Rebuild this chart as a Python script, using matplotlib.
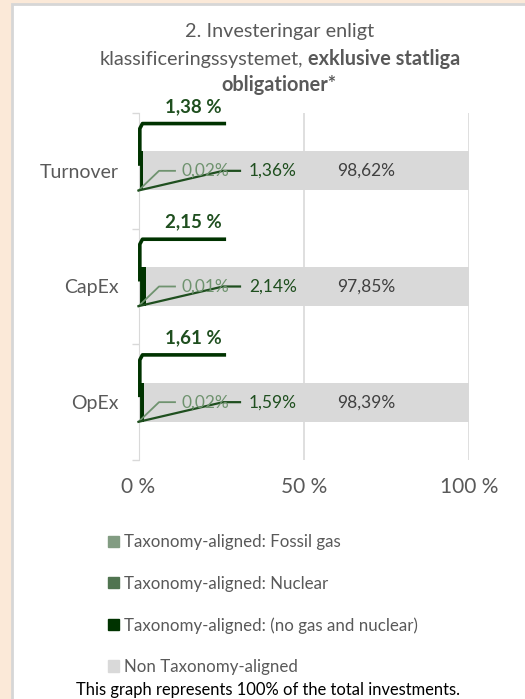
import matplotlib
matplotlib.use("Agg")
import matplotlib.pyplot as plt
from matplotlib.patches import Rectangle, Patch

# data
categories = ["Turnover", "CapEx", "OpEx"]
fossil_gas = [0.00, 0.00, 0.00]
nuclear = [0.02, 0.01, 0.02]
aligned = [1.36, 2.14, 1.59]
non_aligned = [98.62, 97.85, 98.39]
totals = [1.38, 2.15, 1.61]
x_ticks = [0, 50, 100]
legend_labels = ["Taxonomy-aligned: Fossil gas", "Taxonomy-aligned: Nuclear",
                 "Taxonomy-aligned: (no gas and nuclear)", "Non Taxonomy-aligned"]

# couleurs
c_gas = "#829c82"
c_nuc = "#507450"
c_ali = "#003300"
c_non = "#d9d9d9"
c_txt = "#595959"
c_lab = "#1f4f1f"
c_nuc_lab = "#6f936f"

plt.rcParams["font.family"] = ["Lato", "DejaVu Sans"]

W, H = 525, 699
fig = plt.figure(figsize=(W / 100, H / 100), dpi=100)
fig.patch.set_facecolor("#fbe9d8")


def px(x, y):
    return x / W, 1 - y / H


# panneau blanc avec bord gris
fig.patches.append(Rectangle(px(12, 710), 600 / W, 706 / H, transform=fig.transFigure,
                             facecolor="white", edgecolor="#d6d6d6", linewidth=2, zorder=-10))

x0, y0 = px(138.5, 460)
x1, y1 = px(469, 113)
ax = fig.add_axes([x0, y0, x1 - x0, y1 - y0])
ax.set_facecolor("none")

ypos = list(range(len(categories)))
h = 0.34
left = [0] * 3
for vals, col in [(fossil_gas, c_gas), (nuclear, c_nuc), (aligned, c_ali), (non_aligned, c_non)]:
    ax.barh(ypos, vals, left=left, height=h, color=col, zorder=2)
    left = [l + v for l, v in zip(left, vals)]

ax.set_xlim(0, 100)
ax.set_ylim(2.5, -0.5)
ax.set_xticks(x_ticks)
ax.set_xticklabels([f"{t} %" for t in x_ticks], color=c_txt, fontsize=15)
ax.set_yticks(ypos)
ax.set_yticklabels(categories, color=c_txt, fontsize=14)
ax.set_yticks([-0.5, 0.5, 1.5, 2.5], minor=True)
ax.tick_params(axis="x", length=0, pad=12)
ax.tick_params(axis="y", which="major", length=0, pad=14)
ax.tick_params(axis="y", which="minor", length=5, color="#d9d9d9", width=1)
for s in ["top", "right", "bottom"]:
    ax.spines[s].set_visible(False)
ax.spines["left"].set_color("#d9d9d9")
ax.grid(axis="x", color="#d9d9d9", linewidth=1.2, zorder=1)
ax.set_axisbelow(True)

# conversion pixels -> donnees
ppx = 330.5 / 100.0   # pixels par %
ppy = 115.0           # pixels par categorie

for i in range(len(categories)):
    yb = i + h / 2
    # etiquette nucleaire
    lx = (181 - 138.5) / ppx
    ax.plot([0, lx - 22 / ppx, lx - 6 / ppx], [yb, i, i], color=c_nuc_lab, lw=1.3,
            clip_on=False, zorder=4)
    ax.text(lx, i, f"{nuclear[i]:.2f}%".replace(".", ","), color=c_nuc_lab, fontsize=12.5,
            va="center", ha="left", zorder=5)
    # etiquette alignee
    lx = (249 - 138.5) / ppx
    ax.plot([0, lx - 26 / ppx, lx - 9 / ppx], [yb, i, i], color=c_lab, lw=1.6,
            clip_on=False, zorder=4)
    ax.text(lx, i, f"{aligned[i]:.2f}%".replace(".", ","), color=c_lab, fontsize=12.5,
            va="center", ha="left", zorder=5)
    # non alignee
    ax.text(69, i, f"{non_aligned[i]:.2f}%".replace(".", ","), color="#404040",
            fontsize=12.5, va="center", ha="center", zorder=5)
    # total avec ligne
    ax.plot([0.4, 0.4, 1.2, 26.5], [i - 5 / ppy, i - 42 / ppy, i - 47 / ppy, i - 47 / ppy],
            color=c_ali, lw=2.6, clip_on=False, zorder=4, solid_capstyle="butt")
    ax.text(16.5, i - 64 / ppy, f"{totals[i]:.2f} %".replace(".", ","), color=c_lab,
            fontsize=13.5, fontweight="bold", va="center", ha="center", zorder=5,
            clip_on=False)

# titre
fs_t = 14.3
fig.text(*px(280, 32), "2. Investeringar enligt", ha="center", va="center",
         color=c_txt, fontsize=fs_t)
t1 = fig.text(0, 0, "klassificeringssystemet,", fontsize=fs_t, color=c_txt, va="center")
t2 = fig.text(0, 0, "exklusive statliga", fontsize=fs_t, color=c_txt, va="center",
              fontweight="bold")
r = fig.canvas.get_renderer()
w1 = t1.get_window_extent(r).width
w2 = t2.get_window_extent(r).width
gap = 5
start = 280 - (w1 + gap + w2) / 2
t1.set_position(px(start, 59))
t2.set_position(px(start + w1 + gap, 59))
fig.text(*px(279, 85), "obligationer*", ha="center", va="center", color=c_txt,
         fontsize=fs_t, fontweight="bold")

# legende
handles = [Patch(color=c) for c in [c_gas, c_nuc, c_ali, c_non]]
leg = fig.legend(handles, legend_labels, loc="upper left", bbox_to_anchor=px(93, 519),
                 frameon=False, fontsize=12.2, labelcolor=c_txt, handlelength=0.65,
                 handleheight=0.65, handletextpad=0.3, labelspacing=1.5)

fig.text(*px(268, 690), "This graph represents 100% of the total investments.",
         ha="center", va="center", color="black", fontsize=11.9)

plt.savefig("out.png", dpi=100, facecolor=fig.get_facecolor())
